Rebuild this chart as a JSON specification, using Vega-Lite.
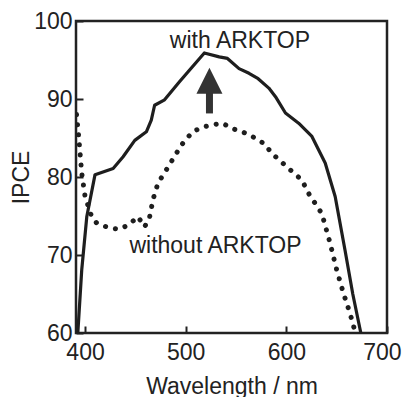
{
  "$schema": "https://vega.github.io/schema/vega-lite/v6.json",
  "width": 311,
  "height": 312,
  "autosize": "none",
  "padding": {"left": 76, "top": 21, "right": 18, "bottom": 64},
  "background": "white",
  "config": {
    "view": {"stroke": "#222", "strokeWidth": 2.5},
    "font": "Liberation Sans",
    "axis": {
      "grid": false,
      "domain": false,
      "ticks": true,
      "tickSize": -7,
      "tickWidth": 2,
      "tickColor": "#222",
      "labelFontSize": 23,
      "labelColor": "#222",
      "labelFont": "Liberation Sans",
      "labelFlush": false,
      "titleFontSize": 23,
      "titleFontWeight": "normal",
      "titleColor": "#222",
      "titleFont": "Liberation Sans"
    }
  },
  "datasets": {
    "curves": [
      {"series": "with", "wl": 392.8, "ipce": 60},
      {"series": "with", "wl": 396.7, "ipce": 68.1},
      {"series": "with", "wl": 401.7, "ipce": 74.9},
      {"series": "with", "wl": 409.9, "ipce": 80.3},
      {"series": "with", "wl": 427.9, "ipce": 81.1},
      {"series": "with", "wl": 437.8, "ipce": 82.6},
      {"series": "with", "wl": 449.4, "ipce": 84.7},
      {"series": "with", "wl": 460.9, "ipce": 85.8},
      {"series": "with", "wl": 465.8, "ipce": 87.3},
      {"series": "with", "wl": 469.1, "ipce": 89.2},
      {"series": "with", "wl": 479.0, "ipce": 89.9},
      {"series": "with", "wl": 493.8, "ipce": 92.2},
      {"series": "with", "wl": 518.5, "ipce": 95.9},
      {"series": "with", "wl": 533.3, "ipce": 95.4},
      {"series": "with", "wl": 541.5, "ipce": 95.2},
      {"series": "with", "wl": 553.0, "ipce": 93.9},
      {"series": "with", "wl": 562.9, "ipce": 93.3},
      {"series": "with", "wl": 572.0, "ipce": 92.6},
      {"series": "with", "wl": 582.6, "ipce": 91.4},
      {"series": "with", "wl": 589.2, "ipce": 90.3},
      {"series": "with", "wl": 599.1, "ipce": 88.2},
      {"series": "with", "wl": 612.2, "ipce": 86.9},
      {"series": "with", "wl": 625.4, "ipce": 85.2},
      {"series": "with", "wl": 638.6, "ipce": 81.8},
      {"series": "with", "wl": 648.5, "ipce": 77.5},
      {"series": "with", "wl": 658.3, "ipce": 70.6},
      {"series": "with", "wl": 666.0, "ipce": 65.0},
      {"series": "with", "wl": 674.0, "ipce": 60},
      {"series": "without", "wl": 391.5, "ipce": 88.0},
      {"series": "without", "wl": 393.4, "ipce": 85.6},
      {"series": "without", "wl": 396.7, "ipce": 80.5},
      {"series": "without", "wl": 400.0, "ipce": 77.5},
      {"series": "without", "wl": 406.6, "ipce": 74.9},
      {"series": "without", "wl": 411.5, "ipce": 74.1},
      {"series": "without", "wl": 421.4, "ipce": 73.6},
      {"series": "without", "wl": 432.9, "ipce": 73.3},
      {"series": "without", "wl": 442.7, "ipce": 73.8},
      {"series": "without", "wl": 452.6, "ipce": 74.9},
      {"series": "without", "wl": 459.2, "ipce": 73.6},
      {"series": "without", "wl": 464.2, "ipce": 74.9},
      {"series": "without", "wl": 467.5, "ipce": 77.1},
      {"series": "without", "wl": 472.4, "ipce": 79.2},
      {"series": "without", "wl": 480.7, "ipce": 80.9},
      {"series": "without", "wl": 490.5, "ipce": 83.0},
      {"series": "without", "wl": 497.0, "ipce": 84.3},
      {"series": "without", "wl": 506.9, "ipce": 85.8},
      {"series": "without", "wl": 516.8, "ipce": 86.4},
      {"series": "without", "wl": 526.7, "ipce": 86.7},
      {"series": "without", "wl": 536.5, "ipce": 86.9},
      {"series": "without", "wl": 546.4, "ipce": 86.2},
      {"series": "without", "wl": 556.3, "ipce": 85.8},
      {"series": "without", "wl": 566.1, "ipce": 85.2},
      {"series": "without", "wl": 577.7, "ipce": 84.3},
      {"series": "without", "wl": 585.9, "ipce": 83.0},
      {"series": "without", "wl": 604.0, "ipce": 80.9},
      {"series": "without", "wl": 615.5, "ipce": 79.6},
      {"series": "without", "wl": 622.1, "ipce": 77.9},
      {"series": "without", "wl": 635.3, "ipce": 75.3},
      {"series": "without", "wl": 643.5, "ipce": 71.5},
      {"series": "without", "wl": 650.0, "ipce": 68.1},
      {"series": "without", "wl": 656.7, "ipce": 65.1},
      {"series": "without", "wl": 663.3, "ipce": 62.5},
      {"series": "without", "wl": 668.2, "ipce": 60.2}
    ],
    "labels": [
      {"text": "with ARKTOP", "wl": 553.9, "ipce": 96.5},
      {"text": "without ARKTOP", "wl": 529.6, "ipce": 70.3}
    ],
    "arrow": [
      {"wl": 523.6, "shaftLow": 88.15, "shaftHigh": 90.9, "head": 92.33}
    ]
  },
  "encoding": {
    "x": {
      "field": "wl", "type": "quantitative",
      "scale": {"domain": [391, 700], "nice": false, "zero": false},
      "axis": {"values": [400, 500, 600, 700], "title": "Wavelength / nm", "labelPadding": 15, "titlePadding": 11, "labelFlush": 4, "labelFlushOffset": 14}
    },
    "y": {
      "field": "ipce", "type": "quantitative",
      "scale": {"domain": [60, 100], "nice": false, "zero": false},
      "axis": {"values": [60, 70, 80, 90, 100], "title": "IPCE", "labelPadding": 11, "titlePadding": 0}
    }
  },
  "layer": [
    {
      "data": {"name": "curves"},
      "transform": [{"filter": "datum.series === 'with'"}],
      "mark": {"type": "line", "color": "#1e1e1e", "strokeWidth": 3.2, "clip": true, "strokeJoin": "round"},
      "encoding": {"detail": {"field": "series"}}
    },
    {
      "data": {"name": "curves"},
      "transform": [{"filter": "datum.series === 'without'"}],
      "mark": {"type": "line", "color": "#1e1e1e", "strokeWidth": 5, "strokeDash": [0.1, 10], "strokeCap": "round", "clip": true},
      "encoding": {"detail": {"field": "series"}}
    },
    {
      "data": {"name": "labels"},
      "mark": {"type": "text", "fontSize": 23, "color": "#222", "align": "center", "baseline": "alphabetic", "font": "Liberation Sans"},
      "encoding": {"text": {"field": "text"}}
    },
    {
      "data": {"name": "arrow"},
      "mark": {"type": "rule", "color": "#333", "strokeWidth": 7},
      "encoding": {
        "y": {"field": "shaftLow", "type": "quantitative"},
        "y2": {"field": "shaftHigh"}
      }
    },
    {
      "data": {"name": "arrow"},
      "mark": {"type": "point", "shape": "M-1,1L1,1L0,-1Z", "filled": true, "color": "#333", "opacity": 1, "size": 676},
      "encoding": {
        "y": {"field": "head", "type": "quantitative"}
      }
    }
  ]
}
